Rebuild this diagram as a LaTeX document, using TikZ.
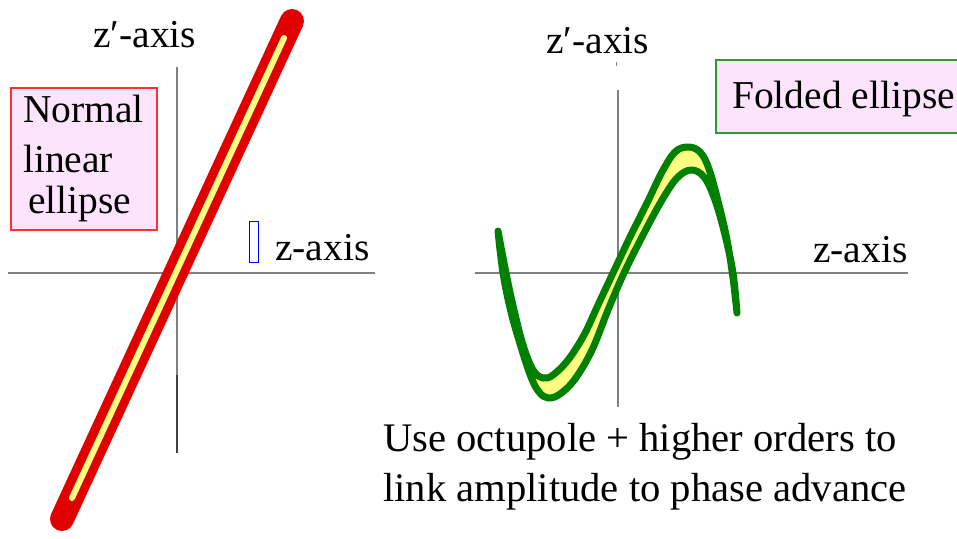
\documentclass[tikz,border=0pt]{standalone}
\usepackage{fontspec}
\setmainfont{Liberation Serif}
\definecolor{pinkbg}{HTML}{FDE4FD}
\definecolor{redline}{HTML}{E00000}
\definecolor{ylw}{HTML}{FFFF80}
\definecolor{grn}{HTML}{008000}
\definecolor{boxred}{HTML}{FF3030}
\definecolor{boxgrn}{HTML}{2E9B2E}
\begin{document}
\begin{tikzpicture}[x=1pt,y=-1pt,
  lbl/.style={anchor=base west, inner sep=0pt, font=\fontsize{39.5}{45}\selectfont},
  biglbl/.style={lbl, font=\fontsize{40.6}{46}\selectfont},
  axisline/.style={draw=gray, line width=1.3pt},
  tagbox/.style={draw, fill=pinkbg, line width=1.2pt, inner sep=0pt},
  band/.style={line width=7pt, draw=grn, fill=ylw, line join=round, line cap=round}
]
\useasboundingbox (0,0) rectangle (957,538);

% left plot axes
\coordinate (la) at (8,273);
\coordinate (lb) at (375,273);
\coordinate (lc) at (177,67);
\coordinate (ld) at (177,375);
\coordinate (le) at (177,453);
\draw[axisline] (la) -- (lb);
\draw[axisline] (lc) -- (ld);
\draw[axisline, draw=black!75] (ld) -- (le);

% normal linear ellipse (thin, rounded ends)
\coordinate (ea) at (62,519);
\coordinate (eb) at (292,21);
\coordinate (ec) at (72,498);
\coordinate (ed) at (284,38);
\draw[draw=redline, line width=24pt, line cap=round] (ea) -- (eb);
\draw[draw=ylw, line width=6pt, line cap=round] (ec) -- (ed);

% box 1
\node[tagbox, draw=boxred, minimum width=146pt, minimum height=142pt] (nbox) at (84,159) {};
\node[lbl] (t1) at (23,122) {Normal};
\node[lbl] (t2) at (23,172) {linear};
\node[lbl] (t3) at (28,213) {ellipse};

% blue marker and labels
\node[draw=blue, line width=1pt, minimum width=9pt, minimum height=41pt, inner sep=0pt] (brect) at (253.5,241.5) {};
\node[lbl] (lzp) at (93,47) {z′-axis};
\node[lbl] (lz) at (275,260) {z-axis};

% right plot axes
\coordinate (ra) at (475,273);
\coordinate (rb) at (908,273);
\coordinate (rc) at (618,90);
\coordinate (rd) at (618,407);
\coordinate (re) at (616,62);
\coordinate (rf) at (616,66);
\draw[axisline] (ra) -- (rb);
\draw[axisline] (rc) -- (rd);
\draw[axisline, line width=1pt] (re) -- (rf);

% folded ellipse
\draw[band]
  plot[smooth, tension=0.6] coordinates {(498,231) (503,273) (511,312) (521,347) (531,377) (539,392) (548,398) (560,394) (575,379) (592,350) (608,310) (624,273) (643,235) (662,200) (677,178) (691,170) (704,177) (715,200) (725,235) (733,273) (737,313)}
  -- plot[smooth, tension=0.6] coordinates {(737,313) (733,278) (727,240) (719,205) (709,169) (700,152) (688,147) (675,152) (662,172) (647,203) (630,237) (613,273) (598,305) (584,335) (568,360) (553,375) (543,378) (533,370) (523,345) (514,310) (506,273) (498,231)}
  -- cycle;

% box 2
\node[tagbox, draw=boxgrn, minimum width=246pt, minimum height=73pt] (fbox) at (839,96.5) {};
\node[lbl] (t4) at (732,108) {Folded ellipse};

\node[lbl] (rzp) at (546,53) {z′-axis};
\node[lbl] (rz) at (813,262) {z-axis};

% bottom text
\node[biglbl] (b1) at (383,451) {Use octupole + higher orders to};
\node[biglbl] (b2) at (383,501) {link amplitude to phase advance};
\end{tikzpicture}
\end{document}
